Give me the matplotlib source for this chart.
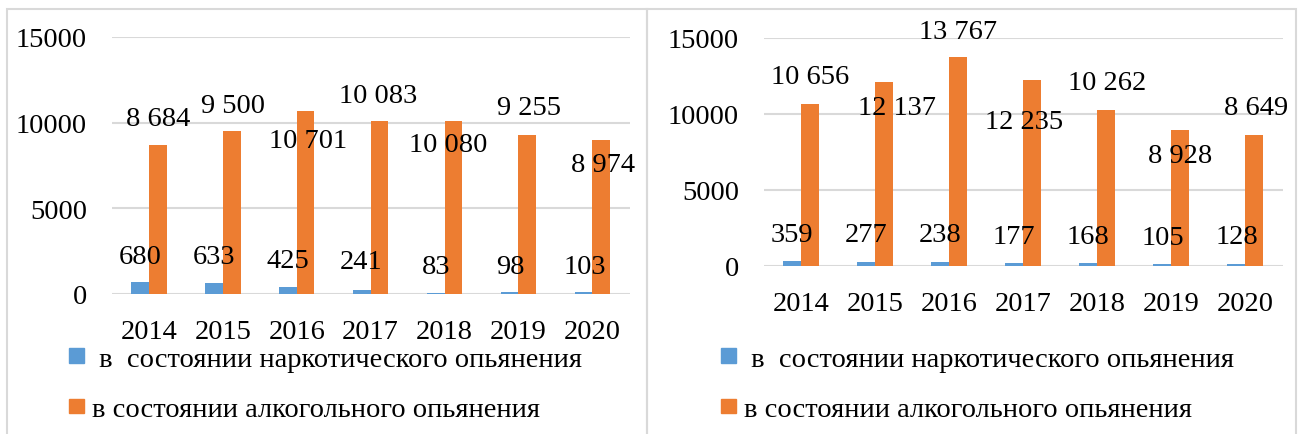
import matplotlib.pyplot as plt
from matplotlib.patches import Rectangle, Patch

plt.rcParams['font.family'] = ['Liberation Serif', 'DejaVu Serif']

years = ['2014', '2015', '2016', '2017', '2018', '2019', '2020']

# левая диаграмма
narco_left = [680, 633, 425, 241, 83, 98, 103]
alco_left = [8684, 9500, 10701, 10083, 10080, 9255, 8974]
# правая диаграмма
narco_right = [359, 277, 238, 177, 168, 105, 128]
alco_right = [10656, 12137, 13767, 12235, 10262, 8928, 8649]

series_names = [' в  состоянии наркотического опьянения',
                'в состоянии алкогольного опьянения']

# положения подписей (Excel разбросал их вручную)
narco_left_lbl_x = [-0.12, -0.12, -0.12, -0.13, -0.11, -0.11, -0.10]
narco_left_lbl_y = [2160, 2160, 1930, 1870, 1630, 1630, 1630]
alco_left_lbl_x = [0.12, 0.14, 0.16, 0.10, 0.05, 0.14, 0.15]
alco_left_lbl_y = [10270, 11030, 8930, 11560, 8750, 10860, 7530]
narco_right_lbl_x = [-0.12, -0.12, -0.12, -0.13, -0.12, -0.11, -0.11]
narco_right_lbl_y = [2100, 2100, 2100, 1970, 1970, 1900, 1970]
alco_right_lbl_x = [0.12, 0.30, 0.12, 0.01, 0.14, 0.12, 0.14]
alco_right_lbl_y = [12440, 10400, 15460, 9480, 12040, 7240, 10400]

BLUE = '#5b9bd5'
ORANGE = '#ed7d31'
GRID = '#d9d9d9'
FS = 20.5

W, H = 1302, 435
fig = plt.figure(figsize=(W / 100, H / 100), dpi=100)

# рамки панелей
for x0, x1 in [(7, 647), (647, 1296)]:
    fig.patches.append(Rectangle((x0 / W, -0.1), (x1 - x0) / W, 1.1 - 10 / H,
                                 transform=fig.transFigure, fill=False,
                                 edgecolor=GRID, lw=1.5))


def fmt(v):
    return f'{v:,}'.replace(',', ' ')


def draw(rect, narco, alco, nlx, nly, alx, aly, leg_xy):
    ax = fig.add_axes(rect)
    x = range(len(years))
    bw = 0.24
    ax.bar([i - bw / 2 for i in x], narco, bw, color=BLUE, zorder=3)
    ax.bar([i + bw / 2 for i in x], alco, bw, color=ORANGE, zorder=3)
    for i in x:
        ax.text(i + nlx[i], nly[i], fmt(narco[i]), ha='center', va='center',
                fontsize=FS, zorder=4)
        ax.text(i + alx[i], aly[i], fmt(alco[i]), ha='center', va='center',
                fontsize=FS, zorder=4)
    ax.set_xlim(-0.5, 6.51)
    ax.set_ylim(0, 15000)
    ax.set_yticks([0, 5000, 10000, 15000])
    ax.set_xticks(list(x))
    ax.set_xticklabels(years)
    ax.tick_params(length=0, labelsize=FS)
    ax.tick_params(axis='y', pad=18)
    ax.tick_params(axis='x', pad=18)
    ax.grid(axis='y', color=GRID, lw=1.5, zorder=0)
    for s in ax.spines.values():
        s.set_visible(False)
    ax.set_facecolor('none')
    handles = [Patch(color=BLUE), Patch(color=ORANGE)]
    fig.legend(handles, series_names, loc='upper left',
               bbox_to_anchor=(leg_xy[0] / W, 1 - leg_xy[1] / H),
               frameon=False, fontsize=FS, handlelength=0.53,
               handleheight=0.42, handletextpad=0.28, labelspacing=0.88,
               borderaxespad=0, borderpad=0)
    return ax


draw([112 / W, 1 - 295 / H, 518 / W, 257 / H], narco_left, alco_left,
     narco_left_lbl_x, narco_left_lbl_y, alco_left_lbl_x, alco_left_lbl_y,
     (69, 348))
draw([764 / W, 1 - 267 / H, 519 / W, 228 / H], narco_right, alco_right,
     narco_right_lbl_x, narco_right_lbl_y, alco_right_lbl_x, alco_right_lbl_y,
     (721, 348))

fig.savefig('out.png', dpi=100)
